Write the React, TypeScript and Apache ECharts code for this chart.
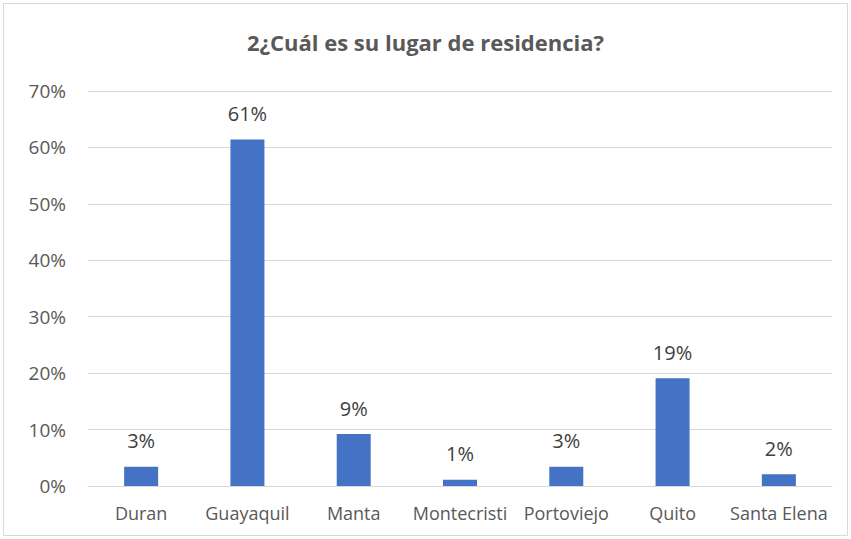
import React, { useEffect, useRef } from "react";
import * as echarts from "echarts";

const categories = ["Duran", "Guayaquil", "Manta", "Montecristi", "Portoviejo", "Quito", "Santa Elena"];
const values = [0.034, 0.614, 0.092, 0.011, 0.034, 0.191, 0.021];
const titleText = "2¿Cuál es su lugar de residencia?";

export default function App() {
  const ref = useRef<HTMLDivElement>(null);
  useEffect(() => {
    document.body.style.margin = "0";
    const chart = echarts.init(ref.current!, null, { renderer: "svg" });
    chart.setOption({
      animation: false,
      backgroundColor: "#ffffff",
      title: {
        text: titleText,
        left: "center",
        top: 26,
        textStyle: { fontFamily: "Open Sans", fontSize: 22, fontWeight: "bold", color: "#595959" },
      },
      graphic: [
        {
          type: "rect",
          shape: { x: 3.5, y: 3.5, width: 844, height: 532 },
          style: { fill: "none", stroke: "#d9d9d9", lineWidth: 1 },
          silent: true,
        },
      ],
      grid: { left: 88, right: 19, top: 91, bottom: 53, containLabel: false },
      xAxis: {
        type: "category",
        data: categories,
        axisLine: { show: true, lineStyle: { color: "#d9d9d9", width: 1 } },
        axisTick: { show: false },
        axisLabel: { color: "#595959", fontFamily: "Open Sans", fontSize: 18, margin: 18, interval: 0 },
      },
      yAxis: {
        type: "value",
        min: 0,
        max: 0.7,
        interval: 0.1,
        axisLine: { show: false },
        axisTick: { show: false },
        splitLine: { lineStyle: { color: "#d9d9d9", width: 1 } },
        axisLabel: {
          color: "#595959",
          fontFamily: "Open Sans",
          fontSize: 19,
          margin: 22,
          formatter: (v: number) => Math.round(v * 100) + "%",
        },
      },
      series: [
        {
          type: "bar",
          data: values,
          barWidth: 34,
          itemStyle: { color: "#4472c4" },
          label: {
            show: true,
            position: "top",
            distance: 16,
            color: "#404040",
            fontFamily: "Open Sans",
            fontSize: 20,
            formatter: (p: any) => Math.round(p.value * 100) + "%",
          },
        },
      ],
    });
    return () => chart.dispose();
  }, []);
  return <div ref={ref} style={{ position: "absolute", left: 0, top: 0, width: 851, height: 539 }} />;
}
